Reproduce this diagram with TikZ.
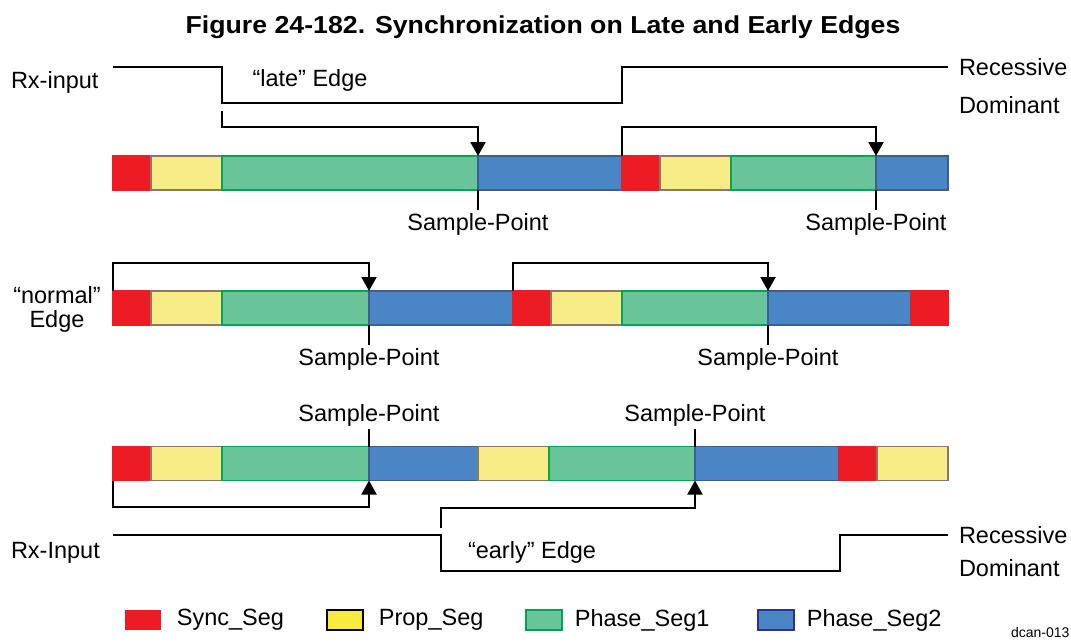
\documentclass[tikz,border=0pt]{standalone}
\usepackage{fontspec}
\setmainfont{Liberation Sans}
\usetikzlibrary{arrows.meta, positioning}

\definecolor{syncred}{HTML}{ED1C24}
\definecolor{propyel}{HTML}{F8EC86}
\definecolor{propbrd}{HTML}{8A7768}
\definecolor{phagrn}{HTML}{69C499}
\definecolor{phabrd}{HTML}{00A651}
\definecolor{phbblu}{HTML}{4A86C5}
\definecolor{phbbrd}{HTML}{3F5E8F}
\definecolor{legyel}{HTML}{F6EB3E}
\definecolor{legblu}{HTML}{2E3192}

\begin{document}
\begin{tikzpicture}[x=1pt, y=-1pt, line width=2pt,
    font=\fontsize{23.5}{24}\selectfont,
    seg/.style={anchor=west, minimum height=34pt, inner sep=0pt, outer sep=0pt, line width=1.8pt},
    sync/.style={seg, fill=syncred, draw=syncred},
    prop/.style={seg, fill=propyel, draw=propbrd},
    pha/.style={seg, fill=phagrn, draw=phabrd},
    phb/.style={seg, fill=phbblu, draw=phbbrd},
    arr/.style={-{Triangle[width=15pt,length=14pt]}, line width=2pt},
    wave/.style={line width=2pt},
    tick/.style={line width=2.4pt},
    lbl/.style={inner sep=0pt},
    key/.style={minimum width=36pt, minimum height=20pt, inner sep=0pt, line width=1.8pt}]
    \clip (0,0) rectangle (1071,642);

    % Title
    \node[lbl, font=\bfseries\fontsize{24.5}{26}\selectfont] (title) at (543,27)
        {\scalebox{1.09}[1]{Figure 24-182. Synchronization on Late and Early Edges}};

    % Bars
    \foreach \s/\a/\b [count=\i] in {sync/113/151, prop/151/222, pha/222/478, phb/478/622,
        sync/622/660, prop/660/731, pha/731/876, phb/876/948} {
        \pgfmathsetmacro\w{\b-\a}
        \node[\s, minimum width=\w pt] (u\i) at (\a,173) {};
    }
    \foreach \s/\a/\b [count=\i] in {sync/113/151, prop/151/222, pha/222/369, phb/369/513,
        sync/513/551, prop/551/622, pha/622/768, phb/768/911, sync/911/948} {
        \pgfmathsetmacro\w{\b-\a}
        \node[\s, minimum width=\w pt] (v\i) at (\a,308) {};
    }
    \foreach \s/\a/\b [count=\i] in {sync/113/151, prop/151/222, pha/222/369, phb/369/478,
        prop/478/549, pha/549/695, phb/695/839, sync/839/877, prop/877/948} {
        \pgfmathsetmacro\w{\b-\a}
        \node[\s, minimum width=\w pt] (w\i) at (\a,463.5) {};
    }

    % Late edge
    \node[lbl, anchor=west] (rx1) at (10,82) {Rx-input};
    \node[lbl, anchor=west] (rec1) at (958,67) {Recessive};
    \node[lbl, anchor=west] (dom1) at (958,105) {Dominant};
    \node[lbl] (late) at (310,80) {“late” Edge};
    \coordinate (wa1) at (113,67);
    \draw[wave] (wa1) -| (222,103) -| (622,67) -- ([xshift=-10pt]rec1.west);
    \coordinate (late1) at (222,111);
    \draw[arr] (late1) -- ++(0,16) -| (u3.north east);
    \draw[arr] (u5.north west) -- ++(0,-29) -| (u7.north east);
    \draw[tick] (u3.south east) -- ++(0,20) node[lbl, below=2pt] (sp1) {Sample-Point};
    \draw[tick] (u7.south east) -- ++(0,20) node[lbl, below=2pt] (sp2) {Sample-Point};

    % Normal edge
    \node[lbl, align=center] (norm) at (57,309) {“normal”\\Edge};
    \draw[arr] (v1.north west) -- ++(0,-28) -| (v3.north east);
    \draw[arr] (v5.north west) -- ++(0,-28) -| (v7.north east);
    \draw[tick] (v3.south east) -- ++(0,20) node[lbl, below=2pt] (sp3) {Sample-Point};
    \draw[tick] (v7.south east) -- ++(0,20) node[lbl, below=2pt] (sp4) {Sample-Point};

    % Early edge
    \draw[tick] (w3.north east) -- ++(0,-18) node[lbl, above=1pt] (sp5) {Sample-Point};
    \draw[tick] (w6.north east) -- ++(0,-18) node[lbl, above=1pt] (sp6) {Sample-Point};
    \draw[arr] (w1.south west) -- ++(0,26) -| (w3.south east);
    \coordinate (early1) at (441,528);
    \draw[arr] (early1) -- ++(0,-20) -| (w6.south east);
    \node[lbl, anchor=west] (rx3) at (10,553) {Rx-Input};
    \node[lbl, anchor=west] (rec3) at (958,535) {Recessive};
    \node[lbl, anchor=west] (dom3) at (958,568) {Dominant};
    \node[lbl] (early) at (532,552) {“early” Edge};
    \coordinate (wa3) at (113,535);
    \draw[wave] (wa3) -| (441,571) -| (840,535) -- ([xshift=-10pt]rec3.west);

    % Legend
    \node[key, fill=syncred] (k1) at (143,620) {};
    \node[lbl, right=14pt of k1] (t1) {Sync\_Seg};
    \node[key, fill=legyel, draw=black] (k2) at (345,620) {};
    \node[lbl, right=14pt of k2] (t2) {Prop\_Seg};
    \node[key, fill=phagrn, draw=phabrd] (k3) at (544,620) {};
    \node[lbl, right=11pt of k3] (t3) {Phase\_Seg1};
    \node[key, fill=phbblu, draw=legblu] (k4) at (776,620) {};
    \node[lbl, right=11pt of k4] (t4) {Phase\_Seg2};
    \node[lbl, anchor=west, font=\fontsize{14}{16}\selectfont] (dcan) at (1010,632) {dcan-013};
\end{tikzpicture}
\end{document}
